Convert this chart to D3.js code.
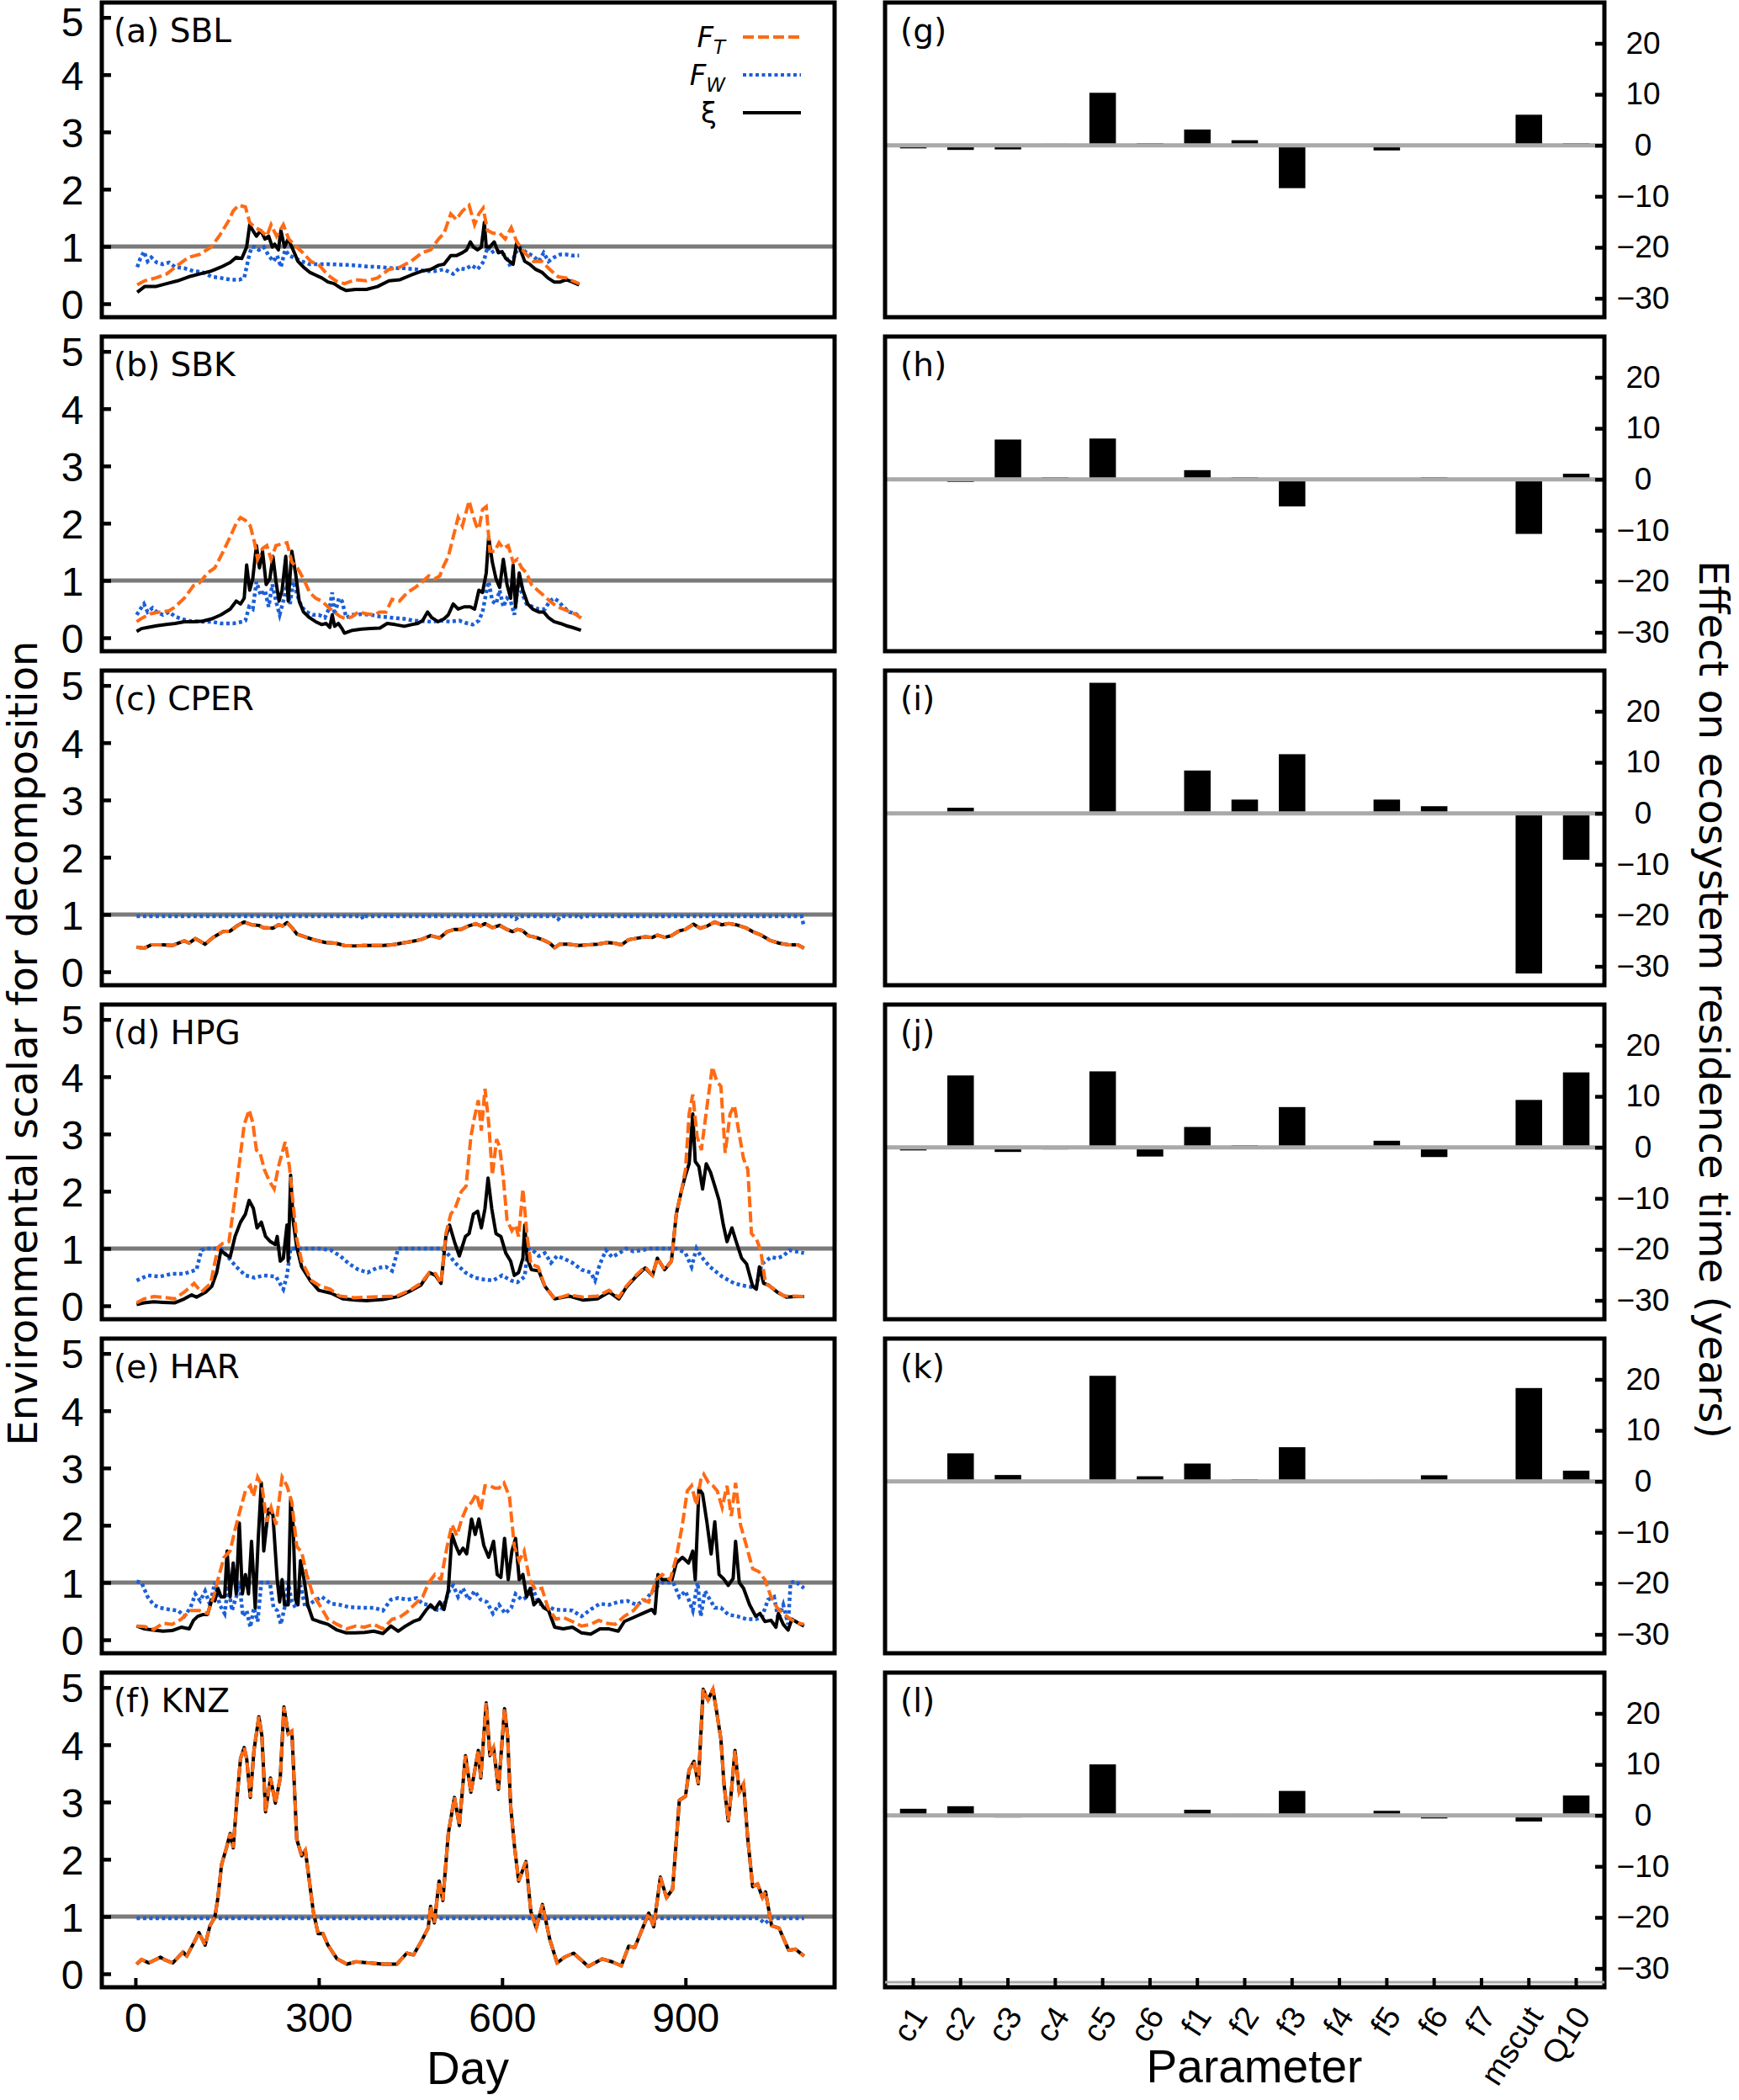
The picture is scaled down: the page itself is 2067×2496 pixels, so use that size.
<!DOCTYPE html>
<html>
<head>
<meta charset="utf-8">
<script src="https://cdn.jsdelivr.net/npm/d3@7"></script>
<style>
  body { margin: 0; background: #fff; }
</style>
</head>
<body>
<div id="chart"></div>
<script>
//Sites, panel tags and tick values
var sites = ["SBL", "SBK", "CPER", "HPG", "HAR", "KNZ"];
var leftTags = ["(a)", "(b)", "(c)", "(d)", "(e)", "(f)"];
var rightTags = ["(g)", "(h)", "(i)", "(j)", "(k)", "(l)"];
var dayTicks = [0, 300, 600, 900];
var scalarTicks = [0, 1, 2, 3, 4, 5];
var effectTicks = [20, 10, 0, -10, -20, -30];
var params = ["c1", "c2", "c3", "c4", "c5", "c6", "f1", "f2", "f3", "f4", "f5", "f6", "f7", "mscut", "Q10"];

//Effect on residence time (years), one value per parameter
var effSBL = [-0.6, -0.9, -0.8, 0.3, 10.3, 0.4, 3.1, 1.0, -8.4, -0.2, -1.0, 0.1, 0, 6.0, 0.4];
var effSBK = [-0.2, -0.5, 7.8, 0.4, 8.0, -0.3, 1.8, 0.4, -5.3, 0, -0.3, 0.4, 0, -10.7, 1.1];
var effCPER = [-0.3, 1.1, -0.1, 0.2, 25.6, 0.2, 8.4, 2.7, 11.6, -0.1, 2.7, 1.4, 0, -31.4, -9.1];
var effHPG = [-0.6, 14.1, -0.9, -0.4, 14.9, -1.8, 4.0, 0.4, 7.9, 0.2, 1.3, -1.9, -0.1, 9.3, 14.7];
var effHAR = [0, 5.5, 1.25, 0, 20.7, 1.0, 3.5, 0.4, 6.7, 0.1, 0.3, 1.2, 0.1, 18.3, 2.1];
var effKNZ = [1.3, 1.8, -0.4, 0.1, 10.0, 0, 1.1, 0.3, 4.8, 0, 0.9, -0.6, 0, -1.2, 3.9];

//Daily scalars as [day, value]
var sblFT = [[3,0.33],[15,0.40],[33,0.45],[51,0.52],[69,0.67],[87,0.81],[105,0.86],[124,0.99],[137,1.18],[151,1.42],[160,1.62],[169,1.72],[180,1.69],[187,1.42],[196,1.33],[205,1.28],[215,1.18],[222,1.38],[231,1.18],[242,1.38],[251,1.13],[262,1.01],[274,0.89],[287,0.74],[301,0.67],[315,0.50],[328,0.40],[342,0.35],[360,0.42],[378,0.40],[396,0.45],[415,0.60],[433,0.64],[451,0.74],[469,0.89],[483,0.94],[496,1.13],[505,1.23],[516,1.57],[525,1.47],[535,1.62],[546,1.72],[555,1.38],[562,1.57],[569,1.67],[576,1.28],[585,1.23],[596,1.23],[605,1.13],[615,1.33],[624,1.08],[637,0.89],[651,0.74],[665,0.74],[678,0.60],[692,0.47],[705,0.45],[715,0.40],[726,0.35]];
var sblFW = [[3,0.64],[8,0.79],[14,0.91],[20,0.74],[26,0.81],[35,0.72],[45,0.69],[55,0.72],[65,0.64],[80,0.62],[95,0.57],[110,0.55],[125,0.47],[140,0.45],[155,0.42],[170,0.42],[178,0.45],[185,0.79],[190,0.99],[196,0.99],[202,0.94],[210,0.99],[218,0.84],[226,0.74],[232,0.84],[238,0.64],[245,0.94],[252,0.84],[262,0.79],[272,0.74],[285,0.69],[300,0.69],[320,0.69],[340,0.68],[360,0.67],[380,0.65],[400,0.64],[420,0.62],[440,0.62],[460,0.60],[475,0.57],[490,0.57],[505,0.60],[520,0.52],[530,0.62],[540,0.60],[550,0.67],[560,0.60],[570,0.74],[576,0.99],[582,0.89],[590,0.94],[598,0.89],[606,0.84],[614,0.64],[622,0.89],[630,0.99],[640,0.89],[650,0.84],[660,0.74],[668,0.89],[676,0.74],[685,0.81],[695,0.86],[705,0.86],[715,0.84],[726,0.84]];
var sblXi = [[3,0.20],[15,0.30],[33,0.30],[51,0.35],[69,0.40],[87,0.47],[105,0.52],[124,0.57],[140,0.64],[155,0.72],[165,0.81],[174,0.79],[182,0.99],[187,1.38],[192,1.28],[198,1.18],[205,1.28],[212,1.13],[218,1.18],[224,0.99],[228,1.04],[234,0.94],[238,1.28],[244,0.99],[250,1.13],[258,0.94],[266,0.74],[275,0.64],[285,0.55],[295,0.50],[305,0.45],[315,0.38],[325,0.35],[335,0.28],[345,0.23],[360,0.25],[378,0.25],[396,0.30],[415,0.40],[433,0.42],[451,0.50],[469,0.57],[483,0.60],[496,0.67],[505,0.69],[516,0.84],[525,0.84],[535,0.89],[542,0.94],[548,1.08],[553,0.99],[560,0.94],[566,0.99],[571,1.42],[574,0.99],[580,0.99],[587,1.08],[594,0.89],[600,0.91],[606,0.79],[612,0.74],[618,0.69],[624,1.08],[630,0.94],[637,0.74],[645,0.69],[655,0.60],[665,0.55],[675,0.45],[685,0.38],[695,0.38],[705,0.42],[715,0.38],[726,0.33]];

var sbkFT = [[2,0.28],[12,0.35],[25,0.42],[40,0.45],[55,0.47],[65,0.54],[80,0.69],[95,0.91],[105,0.96],[118,1.13],[130,1.22],[142,1.47],[155,1.76],[165,2.00],[172,2.10],[180,2.05],[188,1.95],[195,1.66],[200,1.37],[208,1.56],[215,1.61],[222,1.37],[230,1.61],[240,1.64],[248,1.66],[256,1.32],[265,1.22],[275,1.03],[285,0.79],[295,0.69],[305,0.64],[315,0.54],[325,0.45],[335,0.37],[345,0.33],[355,0.37],[365,0.45],[378,0.42],[390,0.40],[400,0.45],[410,0.45],[420,0.67],[432,0.64],[445,0.79],[458,0.88],[470,0.98],[480,1.08],[490,1.03],[498,1.08],[505,1.27],[512,1.42],[520,1.76],[528,2.10],[535,1.95],[540,2.15],[546,2.39],[552,2.15],[558,1.95],[562,1.90],[568,2.24],[574,2.29],[580,1.51],[588,1.51],[595,1.66],[602,1.56],[610,1.61],[618,1.32],[625,1.37],[632,1.22],[640,1.13],[648,0.93],[658,0.83],[668,0.74],[678,0.64],[690,0.54],[700,0.50],[712,0.45],[722,0.40],[729,0.34]];
var sbkFW = [[2,0.40],[8,0.50],[14,0.59],[20,0.45],[28,0.52],[35,0.45],[45,0.40],[55,0.45],[65,0.37],[75,0.33],[90,0.29],[110,0.28],[125,0.28],[140,0.25],[160,0.25],[175,0.28],[180,0.30],[186,0.54],[192,0.50],[198,0.98],[205,0.74],[212,0.83],[218,0.54],[224,0.93],[230,0.64],[236,0.40],[242,0.64],[248,0.93],[253,0.59],[258,0.98],[265,0.74],[272,0.54],[280,0.45],[290,0.40],[300,0.40],[310,0.35],[318,0.54],[322,0.79],[326,0.40],[333,0.69],[338,0.64],[345,0.35],[355,0.40],[370,0.41],[385,0.40],[400,0.37],[420,0.35],[440,0.33],[455,0.30],[470,0.29],[485,0.28],[500,0.30],[515,0.28],[530,0.30],[540,0.26],[552,0.23],[562,0.30],[568,0.45],[574,0.79],[578,0.98],[584,0.64],[590,0.59],[596,0.83],[602,0.54],[608,0.69],[614,0.64],[620,0.40],[626,0.93],[632,0.79],[640,0.59],[650,0.54],[660,0.50],[670,0.50],[678,0.64],[685,0.69],[692,0.64],[700,0.54],[710,0.45],[720,0.42],[729,0.35]];
var sbkXi = [[2,0.11],[10,0.16],[20,0.18],[35,0.21],[50,0.23],[65,0.25],[80,0.28],[95,0.28],[110,0.29],[125,0.33],[140,0.40],[155,0.50],[165,0.64],[172,0.59],[178,0.69],[182,1.27],[187,0.83],[192,1.03],[198,1.61],[203,1.22],[208,1.51],[214,0.93],[220,1.03],[225,1.42],[230,0.98],[235,0.64],[240,0.83],[246,1.42],[250,0.64],[256,1.51],[262,1.13],[268,0.64],[275,0.45],[285,0.35],[295,0.28],[305,0.23],[312,0.25],[318,0.18],[322,0.40],[326,0.20],[332,0.25],[338,0.16],[342,0.08],[355,0.13],[370,0.15],[385,0.16],[400,0.17],[412,0.25],[425,0.23],[440,0.20],[452,0.23],[462,0.25],[470,0.30],[478,0.45],[485,0.35],[495,0.28],[505,0.33],[512,0.40],[520,0.59],[528,0.50],[538,0.54],[548,0.54],[555,0.50],[562,0.83],[568,0.79],[574,1.13],[578,1.76],[584,1.32],[590,1.03],[596,0.88],[602,1.37],[608,0.93],[614,0.69],[618,1.27],[622,0.54],[628,1.13],[634,0.83],[642,0.59],[650,0.50],[660,0.45],[668,0.45],[676,0.35],[685,0.28],[695,0.25],[705,0.21],[715,0.18],[729,0.13]];

var cperFT = [[2,0.43],[14,0.41],[26,0.47],[45,0.47],[61,0.46],[80,0.54],[88,0.50],[98,0.58],[114,0.48],[127,0.60],[143,0.70],[155,0.71],[166,0.80],[178,0.87],[190,0.82],[202,0.81],[209,0.77],[225,0.76],[234,0.82],[241,0.80],[248,0.86],[256,0.77],[264,0.66],[280,0.60],[295,0.55],[311,0.51],[327,0.50],[342,0.46],[358,0.45],[373,0.46],[389,0.46],[405,0.46],[420,0.47],[436,0.50],[452,0.53],[467,0.56],[483,0.63],[498,0.59],[510,0.70],[522,0.74],[533,0.74],[545,0.80],[557,0.84],[565,0.80],[572,0.84],[584,0.77],[596,0.81],[608,0.74],[617,0.70],[625,0.74],[633,0.72],[643,0.63],[655,0.60],[666,0.56],[678,0.50],[686,0.42],[694,0.48],[709,0.48],[725,0.46],[741,0.47],[756,0.48],[772,0.51],[784,0.50],[795,0.47],[807,0.56],[823,0.59],[834,0.61],[846,0.60],[854,0.64],[866,0.60],[877,0.63],[889,0.71],[900,0.74],[913,0.83],[924,0.76],[936,0.80],[948,0.87],[959,0.82],[971,0.84],[983,0.82],[998,0.77],[1010,0.70],[1022,0.65],[1038,0.55],[1053,0.50],[1069,0.47],[1084,0.47],[1094,0.41]];
var cperFW = [[2,0.97],[230,0.97],[235,0.92],[240,0.97],[370,0.97],[373,0.92],[376,0.97],[615,0.97],[622,0.92],[628,0.97],[688,0.97],[692,0.92],[696,0.97],[723,0.97],[727,0.93],[731,0.97],[1090,0.97],[1094,0.78]];
var cperXi = cperFT;

var hpgFT = [[2,0.05],[14,0.12],[30,0.16],[45,0.15],[64,0.12],[80,0.24],[96,0.39],[108,0.24],[123,0.39],[135,1.02],[143,1.09],[153,1.12],[163,1.89],[170,2.48],[178,3.16],[186,3.42],[192,3.20],[198,2.72],[204,2.67],[211,2.38],[219,2.18],[227,2.04],[234,2.43],[245,2.86],[252,2.43],[256,1.99],[264,1.17],[272,0.78],[288,0.44],[303,0.34],[319,0.29],[334,0.17],[358,0.14],[381,0.15],[405,0.16],[428,0.17],[452,0.29],[467,0.39],[481,0.58],[491,0.56],[500,0.39],[508,1.26],[516,1.60],[523,1.70],[533,1.99],[541,2.09],[549,2.96],[555,3.30],[561,3.59],[566,3.06],[572,3.79],[578,3.20],[584,2.28],[591,2.91],[596,2.77],[602,2.23],[608,1.50],[616,1.31],[622,1.41],[627,1.21],[634,2.04],[641,1.21],[647,0.73],[659,0.68],[670,0.34],[686,0.12],[709,0.19],[733,0.15],[756,0.17],[775,0.27],[791,0.15],[803,0.34],[819,0.53],[834,0.68],[846,0.53],[854,0.83],[866,0.63],[877,0.78],[885,1.60],[893,1.99],[900,2.38],[906,3.35],[912,3.69],[919,2.96],[926,2.72],[936,3.54],[944,4.17],[951,3.93],[958,3.83],[965,2.67],[973,3.35],[980,3.50],[987,3.06],[995,2.57],[1002,2.38],[1008,1.26],[1016,1.17],[1023,0.97],[1031,0.39],[1045,0.29],[1061,0.17],[1077,0.17],[1094,0.16]];
var hpgFW = [[2,0.44],[20,0.53],[40,0.51],[60,0.56],[80,0.56],[100,0.63],[108,0.97],[115,1.0],[140,1.0],[150,0.87],[165,0.68],[180,0.53],[195,0.49],[210,0.53],[230,0.51],[242,0.29],[248,0.53],[254,1.0],[300,1.0],[320,0.97],[335,0.87],[350,0.73],[365,0.63],[380,0.58],[395,0.66],[410,0.68],[420,0.61],[430,1.0],[500,1.0],[510,0.92],[525,0.73],[540,0.58],[555,0.49],[570,0.46],[585,0.44],[600,0.53],[615,0.44],[625,0.41],[637,0.51],[642,1.0],[650,0.97],[660,0.87],[670,0.92],[680,0.75],[690,0.87],[700,0.83],[715,0.75],[730,0.63],[745,0.58],[752,0.44],[760,0.73],[770,0.97],[780,0.85],[792,0.92],[803,1.0],[815,0.95],[830,0.97],[840,1.0],[885,1.0],[900,0.92],[910,0.68],[918,1.0],[925,0.87],[940,0.68],[960,0.51],[980,0.39],[1000,0.34],[1015,0.32],[1025,0.73],[1040,0.85],[1050,0.83],[1060,0.87],[1070,0.97],[1080,0.95],[1094,0.92]];
var hpgXi = [[2,0.02],[14,0.05],[30,0.07],[45,0.06],[64,0.05],[80,0.12],[92,0.19],[100,0.15],[115,0.24],[125,0.34],[133,0.58],[140,0.97],[147,0.90],[155,0.85],[163,1.21],[172,1.46],[180,1.60],[186,1.84],[193,1.70],[199,1.36],[206,1.46],[213,1.21],[221,1.12],[229,1.07],[232,1.21],[237,0.78],[242,0.83],[248,1.41],[250,0.78],[254,2.28],[258,1.50],[264,1.02],[272,0.68],[286,0.44],[300,0.27],[320,0.22],[340,0.12],[360,0.10],[381,0.09],[405,0.11],[430,0.16],[452,0.27],[467,0.36],[481,0.58],[491,0.53],[500,0.39],[508,1.21],[514,1.41],[522,1.12],[530,0.87],[540,1.21],[546,1.26],[553,1.60],[560,1.65],[566,1.36],[572,1.70],[577,2.23],[583,1.70],[590,1.26],[598,1.21],[606,0.92],[614,0.78],[620,0.53],[627,0.58],[634,0.83],[637,1.41],[641,0.83],[648,0.63],[660,0.61],[670,0.34],[686,0.12],[709,0.17],[733,0.10],[756,0.12],[775,0.24],[791,0.12],[803,0.32],[819,0.51],[834,0.66],[846,0.53],[854,0.83],[866,0.63],[877,0.78],[885,1.60],[893,1.99],[900,2.28],[906,2.48],[912,3.35],[916,2.52],[922,2.43],[928,2.04],[934,2.48],[941,2.33],[948,2.09],[955,1.84],[962,1.41],[968,1.12],[976,1.36],[983,1.12],[992,0.83],[1000,0.73],[1010,0.34],[1016,0.29],[1021,0.68],[1028,0.39],[1036,0.36],[1050,0.24],[1065,0.15],[1080,0.16],[1094,0.16]];

var harFT = [[2,0.24],[15,0.23],[30,0.18],[45,0.29],[60,0.27],[75,0.36],[90,0.51],[105,0.51],[118,0.46],[128,0.75],[135,1.05],[145,1.44],[155,1.55],[163,1.92],[170,2.21],[180,2.60],[188,2.69],[193,2.50],[200,2.84],[207,2.69],[215,2.06],[222,2.31],[230,2.01],[240,2.84],[248,2.69],[256,2.40],[264,1.63],[272,1.53],[280,1.15],[290,0.80],[300,0.63],[315,0.36],[330,0.27],[345,0.19],[360,0.24],[375,0.22],[390,0.27],[405,0.19],[420,0.36],[432,0.39],[445,0.49],[458,0.63],[470,0.75],[480,1.00],[490,1.14],[500,1.05],[510,1.63],[518,2.01],[526,1.82],[534,2.11],[542,2.31],[550,2.40],[558,2.55],[565,2.26],[572,2.69],[580,2.69],[588,2.65],[595,2.65],[603,2.74],[612,2.50],[620,1.63],[628,1.38],[636,1.55],[645,1.05],[655,0.87],[665,0.90],[675,0.56],[688,0.36],[700,0.39],[715,0.32],[730,0.24],[745,0.27],[758,0.34],[770,0.29],[785,0.27],[800,0.41],[815,0.51],[830,0.70],[840,0.66],[852,1.05],[862,1.14],[875,1.05],[885,1.44],[895,2.01],[903,2.60],[910,2.69],[918,2.35],[925,2.79],[930,2.89],[938,2.74],[945,2.69],[952,2.60],[960,2.31],[968,2.69],[975,2.16],[982,2.74],[990,2.01],[1000,1.63],[1010,1.24],[1020,1.19],[1030,1.05],[1040,0.75],[1050,0.56],[1060,0.46],[1072,0.36],[1085,0.29],[1094,0.27]];
var harFW = [[2,1.02],[10,1.00],[20,0.75],[30,0.61],[40,0.56],[55,0.53],[70,0.51],[80,0.41],[90,0.56],[98,0.80],[106,0.68],[114,0.85],[122,0.61],[130,1.00],[138,0.61],[146,0.46],[152,0.95],[158,0.51],[165,0.75],[170,1.00],[176,0.41],[182,0.51],[188,0.22],[194,0.56],[200,0.32],[206,1.00],[212,1.00],[220,1.00],[226,0.56],[232,0.51],[238,0.27],[244,0.56],[250,1.00],[256,0.66],[262,0.56],[270,0.95],[278,0.56],[290,0.66],[305,0.75],[320,0.63],[335,0.61],[350,0.57],[370,0.56],[390,0.56],[405,0.51],[418,0.70],[430,0.73],[445,0.70],[460,0.73],[470,0.63],[480,0.61],[490,0.53],[500,0.51],[508,0.70],[515,0.90],[520,0.95],[528,0.75],[536,0.90],[545,0.70],[555,0.85],[565,0.70],[575,0.66],[585,0.46],[595,0.61],[605,0.46],[615,0.56],[622,0.80],[632,0.70],[642,0.75],[650,0.90],[660,0.63],[670,0.61],[685,0.53],[700,0.52],[715,0.51],[730,0.41],[745,0.53],[760,0.63],[775,0.61],[790,0.66],[805,0.68],[820,0.61],[835,0.70],[850,0.90],[862,1.00],[880,1.00],[890,0.75],[900,0.85],[912,0.51],[920,1.00],[925,0.41],[932,0.85],[940,0.70],[948,0.56],[958,0.56],[970,0.44],[985,0.41],[1000,0.36],[1015,0.36],[1025,0.39],[1035,0.70],[1045,0.75],[1052,0.36],[1060,0.61],[1068,0.27],[1072,1.00],[1080,1.02],[1094,0.90]];
var harXi = [[2,0.24],[15,0.19],[30,0.17],[45,0.15],[60,0.16],[75,0.22],[88,0.19],[95,0.34],[102,0.41],[110,0.44],[118,0.44],[125,0.70],[130,0.68],[135,0.90],[140,0.75],[146,0.75],[150,1.55],[155,0.75],[160,1.34],[165,0.80],[170,2.04],[175,0.80],[180,1.14],[185,0.80],[190,1.72],[196,0.56],[201,1.77],[206,2.74],[210,1.55],[214,1.94],[218,2.28],[225,2.18],[232,1.05],[236,0.66],[240,1.05],[244,0.61],[250,0.61],[254,2.45],[258,2.01],[262,0.70],[266,0.61],[270,1.38],[276,1.05],[282,0.61],[290,0.36],[300,0.32],[315,0.27],[330,0.17],[345,0.12],[360,0.12],[375,0.13],[390,0.15],[405,0.11],[418,0.24],[430,0.15],[442,0.24],[455,0.32],[465,0.36],[475,0.51],[483,0.61],[490,0.53],[498,0.66],[505,0.53],[512,0.87],[518,1.84],[524,1.65],[530,1.50],[536,1.60],[542,1.50],[550,2.11],[556,1.84],[562,2.11],[570,1.65],[578,1.44],[586,1.72],[592,1.14],[598,1.09],[604,1.77],[610,1.05],[616,1.55],[622,1.77],[628,1.05],[634,1.14],[640,0.75],[646,0.90],[652,0.61],[660,0.70],[668,0.56],[676,0.51],[686,0.22],[700,0.19],[715,0.22],[730,0.12],[745,0.10],[760,0.19],[775,0.19],[790,0.15],[800,0.32],[815,0.39],[830,0.46],[845,0.53],[850,0.46],[855,1.14],[862,1.05],[870,1.05],[878,1.05],[885,1.34],[895,1.44],[905,1.34],[912,1.55],[916,1.05],[922,2.64],[928,2.55],[935,2.06],[942,1.50],[948,2.06],[955,1.14],[962,1.07],[970,0.95],[978,1.07],[982,1.72],[988,1.00],[995,0.90],[1005,0.61],[1015,0.41],[1022,0.46],[1030,0.32],[1040,0.34],[1048,0.22],[1052,0.46],[1060,0.27],[1068,0.17],[1074,0.36],[1085,0.29],[1094,0.24]];

var knzFT = [[2,0.17],[10,0.25],[22,0.19],[41,0.29],[49,0.24],[61,0.19],[78,0.38],[84,0.31],[96,0.55],[104,0.72],[114,0.50],[122,0.84],[130,0.99],[135,1.33],[141,1.91],[149,2.20],[155,2.45],[160,2.20],[166,3.03],[172,3.76],[178,3.95],[182,3.76],[188,3.08],[194,3.90],[202,4.49],[207,4.15],[213,2.83],[221,3.42],[229,2.98],[237,3.42],[243,4.66],[250,4.19],[256,4.24],[264,2.35],[272,2.06],[278,2.16],[284,1.67],[291,1.09],[299,0.70],[307,0.70],[315,0.50],[330,0.26],[346,0.17],[361,0.21],[381,0.19],[405,0.17],[428,0.17],[444,0.36],[455,0.33],[467,0.55],[479,0.80],[483,1.18],[489,0.89],[497,1.62],[503,1.28],[512,2.45],[522,3.08],[530,2.59],[540,3.81],[549,3.17],[561,3.90],[565,3.42],[574,4.73],[580,3.81],[586,3.95],[594,3.22],[604,4.63],[609,4.15],[614,2.93],[620,2.25],[627,1.62],[639,1.96],[647,1.09],[656,0.80],[666,1.21],[678,0.60],[690,0.19],[702,0.29],[717,0.36],[741,0.13],[764,0.26],[780,0.21],[795,0.14],[807,0.48],[817,0.46],[830,0.80],[840,1.06],[848,0.82],[859,1.69],[869,1.33],[879,1.48],[890,3.03],[900,3.10],[906,3.56],[914,3.71],[921,3.32],[929,4.97],[937,4.78],[945,4.97],[951,4.58],[958,4.10],[963,3.32],[970,2.67],[975,3.17],[981,3.90],[988,3.17],[995,3.32],[1002,2.35],[1010,1.52],[1018,1.57],[1026,1.33],[1031,1.43],[1041,0.84],[1053,0.80],[1069,0.41],[1080,0.43],[1094,0.31]];
var knzFW = [[2,0.97],[1020,0.97],[1030,0.88],[1040,0.97],[1094,0.97]];
var knzXi = knzFT;

//Page geometry
var width = 2067,
  height = 2496;
var panelH = 374,
  rowStep = 397,
  firstTop = 3;
var leftX0 = 121,
  leftX1 = 992,
  rightX0 = 1052,
  rightX1 = 1907;

var orange = "#ff6a13",
  blue = "#1b5fd9";

var svg = d3
  .select("#chart")
  .append("svg")
  .attr("width", width)
  .attr("height", height)
  .style("font-family", "'Liberation Sans', Arial, sans-serif");

//Shared scales
var xDay = d3.scaleLinear().domain([-55, 1144]).range([leftX0, leftX1]);
var xPar = d3
  .scaleBand()
  .domain(params)
  .range([rightX0, rightX1])
  .paddingInner(0.44)
  .paddingOuter(0.315);

var rows = [
  { ft: sblFT, fw: sblFW, xi: sblXi, eff: effSBL },
  { ft: sbkFT, fw: sbkFW, xi: sbkXi, eff: effSBK },
  { ft: cperFT, fw: cperFW, xi: cperXi, eff: effCPER },
  { ft: hpgFT, fw: hpgFW, xi: hpgXi, eff: effHPG },
  { ft: harFT, fw: harFW, xi: harXi, eff: effHAR },
  { ft: knzFT, fw: knzFW, xi: knzXi, eff: effKNZ }
];

rows.forEach(function (row, i) {
  var top = firstTop + i * rowStep,
    bottom = top + panelH;

  var yL = d3.scaleLinear().domain([-0.235, 5.26]).range([bottom, top]);
  var yR = d3.scaleLinear().domain([-33.7, 28]).range([bottom, top]);

  //---- left panel: time series
  var clipId = "clip" + i;
  svg
    .append("clipPath")
    .attr("id", clipId)
    .append("rect")
    .attr("x", leftX0)
    .attr("y", top)
    .attr("width", leftX1 - leftX0)
    .attr("height", panelH);

  var gl = svg.append("g").attr("clip-path", "url(#" + clipId + ")");

  gl.append("line")
    .attr("x1", leftX0)
    .attr("x2", leftX1)
    .attr("y1", yL(1))
    .attr("y2", yL(1))
    .attr("stroke", "#7a7a7a")
    .attr("stroke-width", 5);

  var line = d3
    .line()
    .x(function (d) {
      return xDay(d[0]);
    })
    .y(function (d) {
      return yL(d[1]);
    });

  gl.append("path")
    .attr("d", line(row.fw))
    .attr("fill", "none")
    .attr("stroke", blue)
    .attr("stroke-width", 4.5)
    .attr("stroke-dasharray", "4,3.5");

  gl.append("path")
    .attr("d", line(row.xi))
    .attr("fill", "none")
    .attr("stroke", "#000")
    .attr("stroke-width", 4)
    .attr("stroke-linejoin", "round");

  gl.append("path")
    .attr("d", line(row.ft))
    .attr("fill", "none")
    .attr("stroke", orange)
    .attr("stroke-width", 4)
    .attr("stroke-dasharray", "13,5");

  //left axis, ticks pointing inward
  var axL = svg
    .append("g")
    .attr("transform", "translate(" + leftX0 + ",0)")
    .call(d3.axisLeft(yL).tickValues(scalarTicks).tickSize(-11).tickFormat(d3.format("d")));
  axL.select(".domain").remove();
  axL.selectAll("line").attr("stroke-width", 4.5);
  axL.selectAll("text")
    .attr("x", -35)
    .attr("dy", function (d) {
      //the top label of the first panel sits against the page edge
      return i === 0 && d === 5 ? "0.45em" : "0.36em";
    })
    .attr("text-anchor", "middle")
    .style("font-size", "48px")
    .style("font-family", "'Liberation Sans', Arial, sans-serif");

  svg.append("rect")
    .attr("x", leftX0)
    .attr("y", top)
    .attr("width", leftX1 - leftX0)
    .attr("height", panelH)
    .attr("fill", "none")
    .attr("stroke", "#000")
    .attr("stroke-width", 5);

  svg.append("text")
    .attr("x", leftX0 + 14)
    .attr("y", top + 47)
    .style("font-family", "'DejaVu Sans', sans-serif")
    .style("font-size", "39px")
    .text(leftTags[i] + " " + sites[i]);

  //---- right panel: bars
  svg.append("g")
    .selectAll("rect")
    .data(row.eff)
    .enter()
    .append("rect")
    .attr("x", function (d, j) {
      return xPar(params[j]);
    })
    .attr("width", xPar.bandwidth())
    .attr("y", function (d) {
      return yR(Math.max(0, d));
    })
    .attr("height", function (d) {
      return Math.max(1.5, Math.abs(yR(d) - yR(0)));
    })
    .attr("fill", "#000");

  svg.append("line")
    .attr("x1", rightX0)
    .attr("x2", rightX1)
    .attr("y1", yR(0))
    .attr("y2", yR(0))
    .attr("stroke", "#a9a9a9")
    .attr("stroke-width", 5);

  var axR = svg
    .append("g")
    .attr("transform", "translate(" + rightX1 + ",0)")
    .call(d3.axisRight(yR).tickValues(effectTicks).tickSize(-11));
  axR.select(".domain").remove();
  axR.selectAll("line").attr("stroke-width", 4.5);
  axR.selectAll("text")
    .attr("x", 46)
    .attr("text-anchor", "middle")
    .style("font-size", "37px")
    .style("font-family", "'Liberation Sans', Arial, sans-serif");

  svg.append("rect")
    .attr("x", rightX0)
    .attr("y", top)
    .attr("width", rightX1 - rightX0)
    .attr("height", panelH)
    .attr("fill", "none")
    .attr("stroke", "#000")
    .attr("stroke-width", 5);

  svg.append("text")
    .attr("x", rightX0 + 18)
    .attr("y", top + 47)
    .style("font-family", "'DejaVu Sans', sans-serif")
    .style("font-size", "39px")
    .text(rightTags[i]);

  //---- bottom axes on the last row
  if (i === rows.length - 1) {
    var axB = svg
      .append("g")
      .attr("transform", "translate(0," + bottom + ")")
      .call(d3.axisBottom(xDay).tickValues(dayTicks).tickSize(-11));
    axB.select(".domain").remove();
    axB.selectAll("line").attr("stroke-width", 4);
    axB.selectAll("text")
      .attr("y", 53)
      .attr("dy", 0)
      .style("font-size", "48px")
      .style("font-family", "'Liberation Sans', Arial, sans-serif");

    svg.append("line")
      .attr("x1", rightX0)
      .attr("x2", rightX1)
      .attr("y1", bottom - 6)
      .attr("y2", bottom - 6)
      .attr("stroke", "#a9a9a9")
      .attr("stroke-width", 3);

    var axP = svg
      .append("g")
      .attr("transform", "translate(0," + bottom + ")")
      .call(d3.axisBottom(xPar).tickSize(-11).tickFormat(""));
    axP.select(".domain").remove();
    axP.selectAll("line").attr("stroke-width", 4);

    svg.append("g")
      .selectAll("text")
      .data(params)
      .enter()
      .append("text")
      .attr("transform", function (d) {
        return "translate(" + (xPar(d) + xPar.bandwidth() / 2 + 7) + "," + (bottom + 27) + ") rotate(-57)";
      })
      .attr("text-anchor", "end")
      .attr("dy", "0.35em")
      .style("font-size", "38px")
      .text(function (d) {
        return d;
      });
  }
});

//Legend in panel (a)
var legendItems = [
  { y: 44, color: orange, dash: "13,5", main: "F", sub: "T", italic: true },
  { y: 89, color: blue, dash: "4,3.5", main: "F", sub: "W", italic: true },
  { y: 134, color: "#000", dash: null, main: "\u03be", sub: null, italic: false }
];
var legend = svg.append("g");
legendItems.forEach(function (it) {
  legend.append("line")
    .attr("x1", 883)
    .attr("x2", 952)
    .attr("y1", it.y)
    .attr("y2", it.y)
    .attr("stroke", it.color)
    .attr("stroke-width", 4)
    .attr("stroke-dasharray", it.dash);
  var t = legend.append("text")
    .attr("x", it.sub ? 862 : 852)
    .attr("y", it.y + 12)
    .attr("text-anchor", "end")
    .style("font-family", "'DejaVu Sans', sans-serif")
    .style("font-style", it.italic ? "italic" : "normal")
    .style("font-size", "34px");
  t.append("tspan").text(it.main);
  if (it.sub) {
    t.append("tspan").attr("dy", 8).style("font-size", "23px").text(it.sub);
  }
});

//Axis titles
svg.append("text")
  .attr("transform", "translate(44,1240) rotate(-90)")
  .attr("text-anchor", "middle")
  .style("font-family", "'DejaVu Sans', sans-serif")
  .style("font-size", "48px")
  .text("Environmental scalar for decomposition");

svg.append("text")
  .attr("transform", "translate(2020,1188) rotate(90)")
  .attr("text-anchor", "middle")
  .style("font-family", "'DejaVu Sans', sans-serif")
  .style("font-size", "48px")
  .text("Effect on ecosystem residence time (years)");

svg.append("text")
  .attr("x", 556)
  .attr("y", 2477)
  .attr("text-anchor", "middle")
  .style("font-size", "55px")
  .text("Day");

svg.append("text")
  .attr("x", 1491)
  .attr("y", 2475)
  .attr("text-anchor", "middle")
  .style("font-size", "55px")
  .text("Parameter");
</script>
</body>
</html>
